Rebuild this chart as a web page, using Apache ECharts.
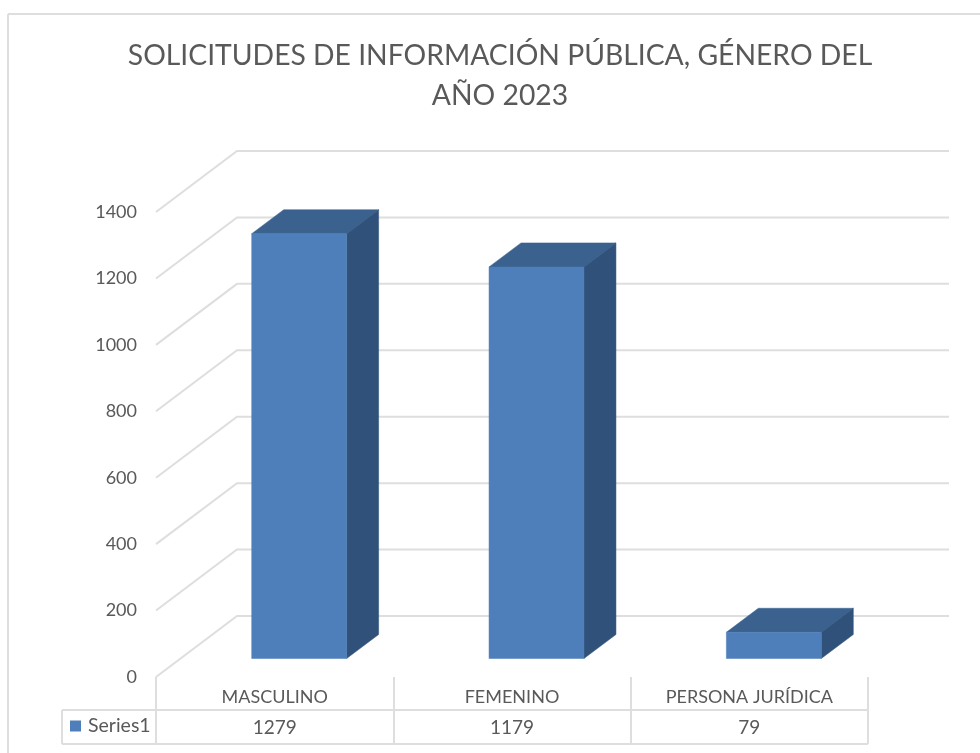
<!DOCTYPE html>
<html>
<head>
<meta charset="utf-8">
<style>html,body{margin:0;padding:0;background:#fff}#c{width:980px;height:753px}</style>
<script src="https://cdn.jsdelivr.net/npm/echarts@6/dist/echarts.min.js"></script>
</head>
<body>
<div id="c"></div>
<script>
const titleText = 'SOLICITUDES DE INFORMACIÓN PÚBLICA, GÉNERO DEL\nAÑO 2023';
const categories = ['MASCULINO', 'FEMENINO', 'PERSONA JURÍDICA'];
const seriesName = 'Series1';
const seriesValues = [1279, 1179, 79];
const yTicks = [0, 200, 400, 600, 800, 1000, 1200, 1400];

const FONT = 'Lato, "Open Sans", sans-serif';
const TXT = '#595959', GRID = '#dedede';
const WALL = [81, -61], FLOOR = [24.5, -18.5], DEPTH = [32, -24];

const chart = echarts.init(document.getElementById('c'), null, {renderer: 'canvas'});
const line = (x1, y1, x2, y2) => ({
  type: 'line', silent: true,
  shape: {x1, y1, x2, y2},
  style: {stroke: GRID, lineWidth: 2}
});

chart.setOption({
  animation: false,
  backgroundColor: '#fff',
  title: {
    text: titleText, left: 495, top: 31, textAlign: 'center',
    textStyle: {fontFamily: FONT, fontSize: 28.3, fontWeight: 'normal', color: TXT, lineHeight: 40}
  },
  legend: {
    data: [seriesName], left: 70, top: 716, itemWidth: 11, itemHeight: 11, icon: 'rect',
    selectedMode: false, itemGap: 0, padding: 0,
    textStyle: {fontFamily: FONT, fontSize: 19.5, color: TXT, padding: [0, 0, 0, 2]}
  },
  grid: {left: 156, right: 112, top: 212, height: 465, containLabel: false, outerBoundsMode: 'none'},
  xAxis: [{
    type: 'category', data: categories, position: 'bottom',
    axisLine: {show: false},
    axisTick: {show: true, length: 67, lineStyle: {color: GRID, width: 2}},
    axisLabel: {margin: 11, interval: 0, fontFamily: FONT, fontSize: 18, color: TXT}
  }, {
    type: 'category', data: seriesValues.map(String), position: 'bottom', offset: 33,
    axisLine: {show: true, lineStyle: {color: GRID, width: 2}},
    axisTick: {show: false},
    axisLabel: {margin: 8, interval: 0, fontFamily: FONT, fontSize: 19, color: TXT}
  }],
  yAxis: {
    type: 'value', min: 0, max: 1400, interval: 200,
    splitLine: {show: false}, axisLine: {show: false}, axisTick: {show: false},
    axisLabel: {margin: 19, fontFamily: FONT, fontSize: 18, color: TXT, formatter: v => String(v)}
  },
  graphic: [
    line(8, 14, 980, 14),
    line(8, 14, 8, 753),
    line(62, 710, 156, 710),
    line(62, 744, 868, 744),
    line(62, 710, 62, 744)
  ],
  series: [{
    type: 'custom', name: 'walls', silent: true, z: 1, clip: false,
    encode: {x: 0, y: 1},
    data: yTicks.map(v => [0, v]),
    renderItem(params, api) {
      const cs = params.coordSys;
      const y = api.coord([0, api.value(1)])[1];
      const x0 = cs.x, xb = x0 + WALL[0], yb = y + WALL[1], xr = cs.x + cs.width + WALL[0];
      return {
        type: 'polyline',
        shape: {points: [[x0, y], [xb, yb], [xr, yb]]},
        style: {fill: null, stroke: GRID, lineWidth: 2}
      };
    }
  }, {
    type: 'custom', name: seriesName, silent: true, z: 2, clip: false,
    itemStyle: {color: '#4e7fbb'},
    encode: {x: 0, y: 1},
    data: seriesValues.map((v, i) => [i, v]),
    renderItem(params, api) {
      const top = api.coord([api.value(0), api.value(1)]);
      const base = api.coord([api.value(0), 0]);
      const w = api.size([1, 0])[0] * 0.4;
      const xl = top[0] + FLOOR[0] - w / 2, xr = xl + w;
      const yt = top[1] + FLOOR[1], yb = base[1] + FLOOR[1];
      const [dx, dy] = DEPTH;
      return {
        type: 'group',
        children: [{
          type: 'polygon',
          shape: {points: [[xl, yt], [xr, yt], [xr + dx, yt + dy], [xl + dx, yt + dy]]},
          style: {fill: '#3b618f', stroke: '#3b618f', lineWidth: 0.5}
        }, {
          type: 'polygon',
          shape: {points: [[xr, yt], [xr + dx, yt + dy], [xr + dx, yb + dy], [xr, yb]]},
          style: {fill: '#30527a', stroke: '#30527a', lineWidth: 0.5}
        }, {
          type: 'rect',
          shape: {x: xl, y: yt, width: w, height: yb - yt},
          style: {fill: '#4e7fbb', stroke: '#4e7fbb', lineWidth: 0.5}
        }]
      };
    }
  }]
});
</script>
</body>
</html>
